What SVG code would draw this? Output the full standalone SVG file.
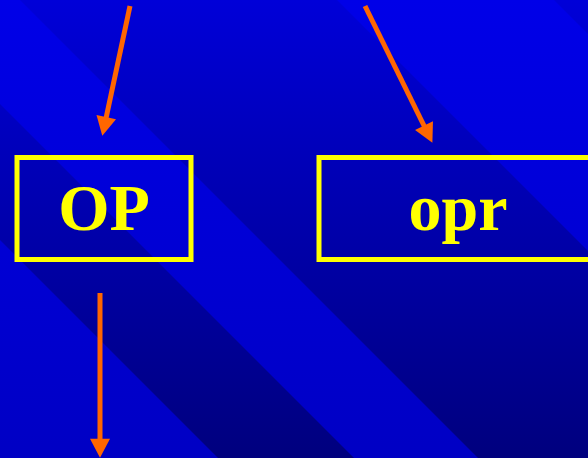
<svg xmlns="http://www.w3.org/2000/svg" width="588" height="458" viewBox="0 0 588 458">
  <style>
    .box { fill: none; stroke: #FFFF00; stroke-width: 5; }
    .label { font-family: "Liberation Serif", "Times New Roman", serif; font-weight: bold; font-size: 66px; fill: #FFFF00; text-anchor: middle; }
    .conn { stroke: #FF6600; stroke-width: 5; fill: none; marker-end: url(#head); }
  </style>
  <defs>
    <linearGradient id="darkBg" gradientUnits="userSpaceOnUse" x1="0" y1="0" x2="0" y2="458">
      <stop offset="0" stop-color="#0000D8"/>
      <stop offset="1" stop-color="#00007E"/>
    </linearGradient>
    <linearGradient id="lightBg" gradientUnits="userSpaceOnUse" x1="0" y1="0" x2="0" y2="458">
      <stop offset="0" stop-color="#0000E8"/>
      <stop offset="1" stop-color="#0000C4"/>
    </linearGradient>
    <marker id="head" markerUnits="userSpaceOnUse" markerWidth="20" markerHeight="20" viewBox="0 0 18 19" refX="3" refY="9.5" orient="auto">
      <path d="M0,0 L18,9.5 L0,19 Z" fill="#FF6600"/>
    </marker>
  </defs>

  <g id="background">
    <rect x="0" y="0" width="588" height="458" fill="url(#darkBg)"/>
    <polygon points="337,0 554,0 588,34 588,251" fill="url(#lightBg)"/>
    <polygon points="0,0 20,0 478,458 354,458 0,104" fill="url(#lightBg)"/>
    <polygon points="0,240 218,458 0,458" fill="url(#lightBg)"/>
  </g>

  <g id="connectors">
    <line class="conn" x1="130" y1="6" x2="105.6" y2="120.3"/>
    <line class="conn" x1="365" y1="6" x2="425.4" y2="128.5"/>
    <line class="conn" x1="100" y1="293" x2="100" y2="442"/>
  </g>

  <g id="node-OP">
    <rect class="box" x="17" y="157.5" width="174" height="102"/>
    <text class="label" x="104" y="230">OP</text>
  </g>

  <g id="node-opr">
    <rect class="box" x="319" y="157.5" width="278" height="102"/>
    <text class="label" x="458" y="230">opr</text>
  </g>
</svg>
